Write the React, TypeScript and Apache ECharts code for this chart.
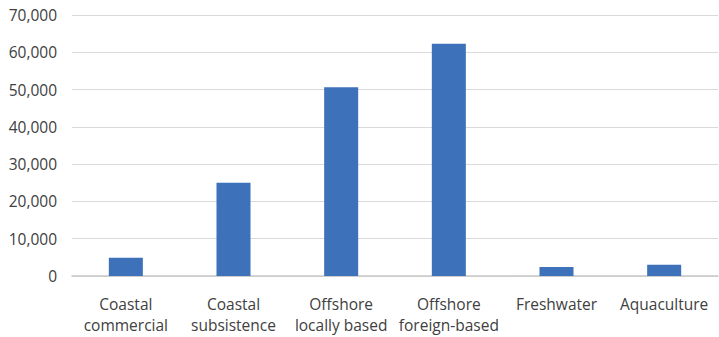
import React, { useEffect, useRef } from "react";
import * as echarts from "echarts";

const categories = [
  "Coastal\ncommercial",
  "Coastal\nsubsistence",
  "Offshore\nlocally based",
  "Offshore\nforeign-based",
  "Freshwater",
  "Aquaculture",
];
const values = [4900, 25000, 50600, 62300, 2400, 3000];
const yTicks = { min: 0, max: 70000, interval: 10000 };

export default function App() {
  const ref = useRef<HTMLDivElement>(null);
  useEffect(() => {
    document.body.style.margin = "0";
    const chart = echarts.init(ref.current!, null, { renderer: "svg" });
    chart.setOption({
      animation: false,
      grid: { left: 72, right: 1, top: 15, bottom: 61, containLabel: false },
      xAxis: {
        type: "category",
        data: categories,
        axisTick: { show: false },
        axisLine: { lineStyle: { color: "#c8c8c8", width: 1.5 } },
        axisLabel: {
          color: "#404040",
          fontFamily: "Open Sans",
          fontSize: 15.5,
          lineHeight: 21,
          margin: 17,
          interval: 0,
        },
      },
      yAxis: {
        type: "value",
        min: yTicks.min,
        max: yTicks.max,
        interval: yTicks.interval,
        axisLine: { show: false },
        axisTick: { show: false },
        splitLine: { lineStyle: { color: "#d9d9d9", width: 1.2 } },
        axisLabel: {
          color: "#404040",
          fontFamily: "Open Sans",
          fontSize: 15.5,
          margin: 15,
          formatter: (v: number) => v.toLocaleString("en-US"),
        },
      },
      series: [
        {
          type: "bar",
          data: values,
          barWidth: "31.6%",
          itemStyle: { color: "#3D72BB" },
        },
      ],
    });
    return () => chart.dispose();
  }, []);
  return <div ref={ref} style={{ width: 719, height: 337 }} />;
}
